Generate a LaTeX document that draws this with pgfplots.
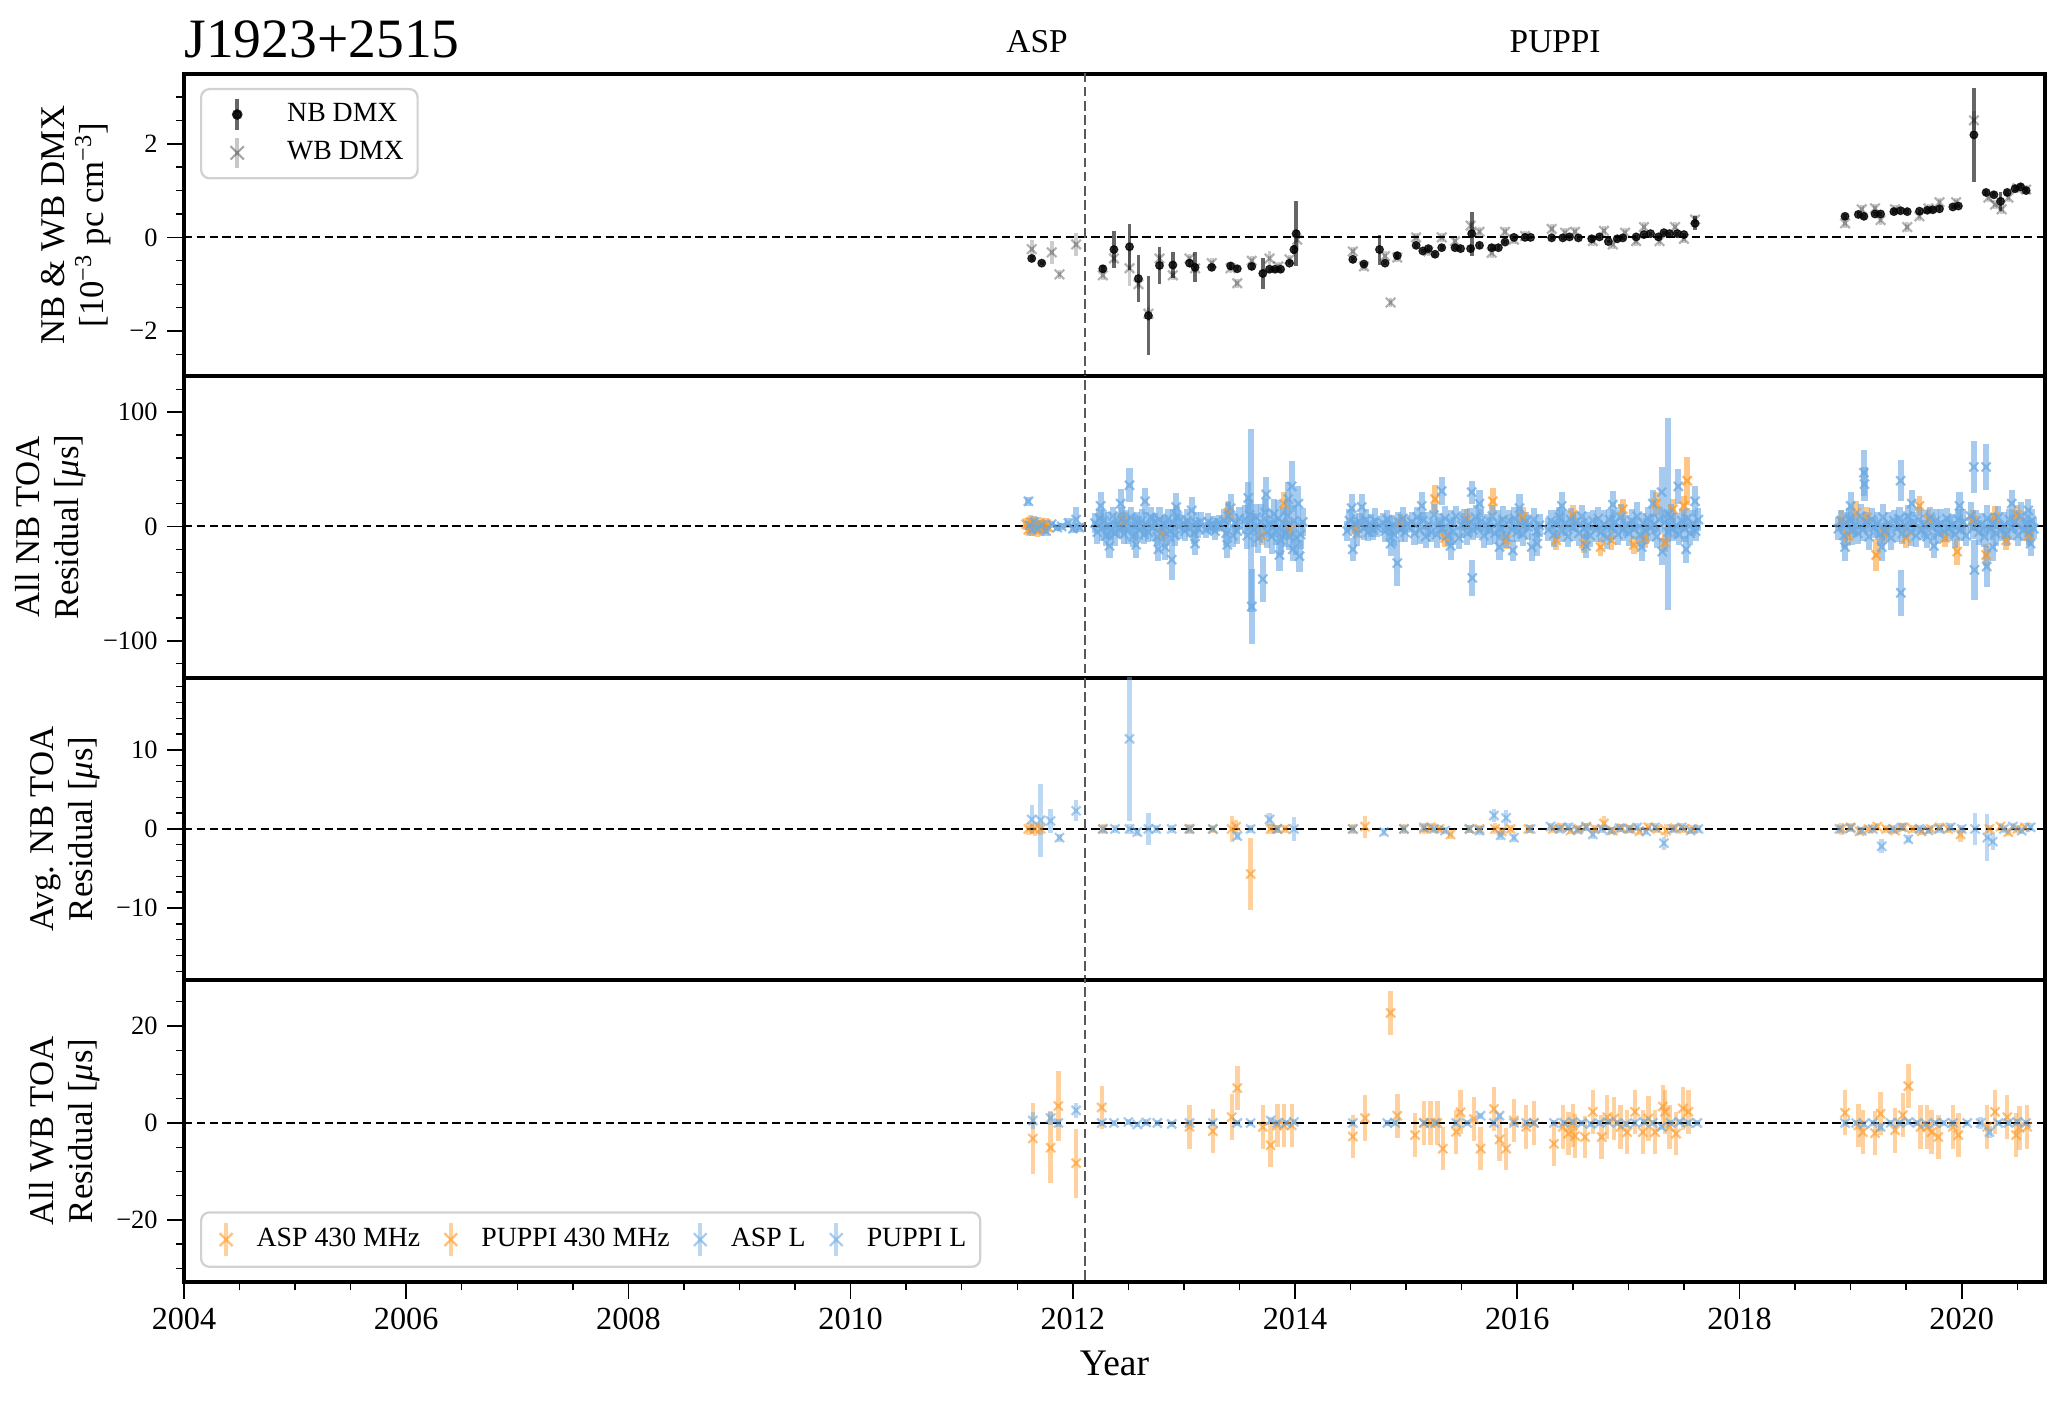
\documentclass[border=0pt]{standalone}
\usepackage{fontspec}
\setmainfont{Liberation Serif}
\usepackage{pgfplots}
\usepackage{pgfplotstable}
\pgfplotsset{compat=1.18}
\definecolor{cor}{HTML}{FD9927}
\definecolor{cbl}{HTML}{6BA9E2}

% ---------------- Panel 1: DMX ----------------
\pgfplotstableread[row sep=\\]{x y e\\
2011.63 -0.45 0.05\\ 2011.72 -0.55 0.05\\ 2012.27 -0.67 0.08\\ 2012.37 -0.26 0.39\\ 2012.51 -0.20 0.49\\
2012.59 -0.88 0.50\\ 2012.68 -1.67 0.85\\ 2012.78 -0.60 0.39\\ 2012.90 -0.59 0.27\\ 2013.05 -0.55 0.08\\
2013.10 -0.64 0.32\\ 2013.25 -0.64 0.06\\ 2013.42 -0.61 0.06\\ 2013.48 -0.67 0.05\\ 2013.61 -0.62 0.08\\
2013.71 -0.77 0.34\\ 2013.77 -0.68 0.05\\ 2013.82 -0.68 0.05\\ 2013.87 -0.68 0.05\\ 2013.95 -0.55 0.05\\
2013.99 -0.26 0.10\\ 2014.01 0.08 0.70\\
2014.52 -0.47 0.05\\ 2014.62 -0.57 0.05\\ 2014.76 -0.26 0.32\\ 2014.81 -0.55 0.05\\ 2014.92 -0.39 0.08\\
2015.09 -0.17 0.05\\ 2015.15 -0.29 0.05\\ 2015.20 -0.24 0.05\\ 2015.26 -0.36 0.05\\ 2015.32 -0.22 0.05\\
2015.44 -0.22 0.05\\ 2015.49 -0.24 0.05\\ 2015.58 -0.24 0.05\\ 2015.59 0.08 0.47\\ 2015.66 -0.17 0.05\\
2015.77 -0.22 0.05\\ 2015.83 -0.22 0.05\\ 2015.89 -0.10 0.05\\ 2015.97 0.00 0.04\\ 2016.07 0.00 0.04\\
2016.12 0.00 0.04\\ 2016.31 -0.01 0.04\\ 2016.41 -0.01 0.04\\ 2016.47 0.01 0.04\\ 2016.55 -0.01 0.04\\
2016.67 -0.03 0.04\\ 2016.74 0.01 0.04\\ 2016.82 -0.09 0.04\\ 2016.90 -0.03 0.04\\ 2016.95 -0.01 0.04\\
2017.07 0.01 0.04\\ 2017.14 0.06 0.04\\ 2017.20 0.08 0.04\\ 2017.27 0.01 0.04\\ 2017.32 0.10 0.04\\
2017.37 0.08 0.04\\ 2017.44 0.08 0.04\\ 2017.50 0.06 0.04\\ 2017.60 0.30 0.15\\
2018.95 0.45 0.05\\ 2019.07 0.49 0.05\\ 2019.12 0.45 0.05\\ 2019.22 0.50 0.05\\ 2019.27 0.50 0.05\\
2019.39 0.55 0.05\\ 2019.45 0.57 0.05\\ 2019.51 0.55 0.05\\ 2019.62 0.56 0.05\\ 2019.69 0.58 0.05\\
2019.74 0.59 0.05\\ 2019.80 0.61 0.05\\ 2019.92 0.65 0.05\\ 2019.97 0.67 0.05\\ 2020.11 2.19 1.00\\
2020.22 0.96 0.05\\ 2020.29 0.91 0.05\\ 2020.35 0.77 0.20\\ 2020.41 0.96 0.05\\ 2020.48 1.04 0.05\\
2020.53 1.08 0.05\\ 2020.58 1.00 0.05\\
}\nbdmx

\pgfplotstableread[row sep=\\]{x y e\\
2011.63 -0.25 0.20\\ 2011.81 -0.32 0.25\\ 2011.88 -0.79 0.10\\ 2012.03 -0.15 0.25\\ 2012.27 -0.81 0.10\\
2012.37 -0.45 0.10\\ 2012.51 -0.66 0.37\\ 2012.59 -1.00 0.10\\ 2012.68 -1.63 0.15\\ 2012.78 -0.45 0.10\\
2012.90 -0.81 0.10\\ 2013.05 -0.45 0.10\\ 2013.10 -0.66 0.10\\ 2013.25 -0.55 0.10\\ 2013.42 -0.66 0.10\\
2013.48 -0.98 0.10\\ 2013.61 -0.50 0.10\\ 2013.77 -0.45 0.15\\ 2013.85 -0.62 0.10\\ 2013.95 -0.47 0.10\\
2014.02 -0.05 0.20\\ 2014.52 -0.30 0.10\\ 2014.62 -0.62 0.10\\ 2014.81 -0.40 0.10\\ 2014.86 -1.39 0.10\\
2014.92 -0.43 0.10\\ 2015.09 0.00 0.10\\ 2015.20 -0.30 0.10\\ 2015.32 0.00 0.10\\ 2015.44 -0.08 0.10\\
2015.58 0.25 0.10\\ 2015.66 0.12 0.10\\ 2015.77 -0.33 0.10\\ 2015.89 0.12 0.10\\ 2015.97 -0.05 0.10\\
2016.07 0.03 0.10\\ 2016.31 0.18 0.10\\ 2016.43 0.10 0.10\\ 2016.52 0.12 0.10\\ 2016.68 -0.08 0.10\\
2016.78 0.14 0.10\\ 2016.86 -0.15 0.10\\ 2016.97 0.10 0.10\\ 2017.07 -0.08 0.10\\ 2017.14 0.22 0.10\\
2017.28 -0.08 0.10\\ 2017.42 0.22 0.10\\ 2017.50 -0.03 0.10\\ 2017.60 0.38 0.10\\
2018.95 0.30 0.10\\ 2019.10 0.60 0.10\\ 2019.22 0.62 0.10\\ 2019.27 0.37 0.10\\ 2019.40 0.60 0.10\\
2019.51 0.22 0.10\\ 2019.62 0.45 0.10\\ 2019.70 0.62 0.10\\ 2019.80 0.75 0.10\\ 2019.95 0.75 0.10\\
2020.11 2.50 0.20\\ 2020.24 0.85 0.10\\ 2020.30 0.70 0.10\\ 2020.36 0.60 0.10\\ 2020.42 0.85 0.10\\
2020.50 1.05 0.10\\ 2020.58 1.02 0.10\\
}\wbdmx

% ---------------- Panel 2: all NB TOA ----------------
\pgfplotstableread[row sep=\\]{x y e\\
2011.58 2 5\\ 2011.60 -3 5\\ 2011.62 4 6\\ 2011.64 -1 5\\ 2011.66 1 6\\ 2011.68 -4 5\\ 2011.70 3 5\\
2011.72 0 6\\ 2011.74 -2 5\\ 2011.76 2 5\\ 2011.78 -1 4\\
2012.45 5 8\\ 2012.80 -6 8\\ 2013.40 12 10\\ 2013.70 -8 8\\ 2013.90 20 10\\ 2013.95 -3 9\\
2014.55 -2 8\\ 2014.95 3 8\\ 2015.26 24 12\\ 2015.35 -10 8\\ 2015.55 6 9\\ 2015.78 22 12\\
2015.90 -12 8\\ 2016.05 8 9\\ 2016.35 -12 9\\ 2016.50 10 9\\ 2016.60 -15 8\\ 2016.75 -18 8\\
2016.85 -12 9\\ 2016.95 15 9\\ 2017.05 -16 8\\ 2017.15 -10 9\\ 2017.25 20 10\\ 2017.33 -14 8\\
2017.40 15 9\\ 2017.53 40 21\\ 2017.50 18 9\\
2018.92 5 9\\ 2018.98 -8 9\\ 2019.05 12 10\\ 2019.23 -25 14\\ 2019.15 8 9\\ 2019.30 -6 9\\
2019.62 18 9\\ 2019.50 -10 9\\ 2019.70 6 9\\ 2019.85 -10 8\\ 2019.96 -22 12\\ 2020.10 5 9\\
2020.22 -25 10\\ 2020.30 8 10\\ 2020.40 -12 9\\ 2020.50 10 9\\ 2020.60 -8 9\\
}\nbor

\pgfplotstableread[row sep=\\]{x y e\\
2011.60 22 4\\ 2011.61 1 4\\ 2011.63 -3 5\\ 2011.65 4 5\\ 2011.68 -2 4\\ 2011.72 1 5\\ 2011.76 -4 4\\
2011.81 2 3\\ 2011.86 -1 3\\ 2011.90 0 3\\ 2011.96 3 4\\ 2012.00 -2 4\\ 2012.03 6 11\\ 2012.06 -1 4\\
2012.20 3 9\\ 2012.22 -5 10\\ 2012.24 7 8\\ 2012.26 -2 11\\ 2012.28 5 9\\ 2012.30 -8 9\\ 2012.32 1 12\\
2012.34 -4 8\\ 2012.36 9 8\\ 2012.38 -6 11\\ 2012.40 2 10\\ 2012.42 -1 9\\ 2012.44 6 11\\ 2012.46 -7 8\\
2012.48 4 10\\ 2012.50 -3 12\\ 2012.51 36 15\\ 2012.52 8 9\\ 2012.54 -9 9\\ 2012.56 0 11\\ 2012.58 5 8\\
2012.60 -3 9\\ 2012.62 5 10\\ 2012.64 -7 8\\ 2012.66 2 11\\ 2012.68 -5 9\\ 2012.70 8 9\\ 2012.72 -1 12\\
2012.74 4 8\\ 2012.76 -9 8\\ 2012.77 -20 10\\ 2012.78 6 11\\ 2012.80 -2 10\\ 2012.82 1 9\\ 2012.84 -6 11\\
2012.86 7 8\\ 2012.88 -4 10\\ 2012.89 -29 18\\ 2012.90 3 12\\ 2012.92 -8 9\\ 2012.94 9 9\\ 2012.96 0 11\\
2012.99 2 8\\ 2013.01 -4 9\\ 2013.03 5 10\\ 2013.05 -1 8\\ 2013.07 14 12\\ 2013.09 -6 9\\ 2013.11 3 10\\
2013.13 -2 8\\ 2013.15 4 9\\
2013.20 -3 7\\ 2013.22 4 8\\ 2013.24 -1 6\\ 2013.26 2 7\\ 2013.28 -4 8\\ 2013.30 1 6\\ 2013.32 3 7\\
2013.36 5 10\\ 2013.38 -6 11\\ 2013.40 9 12\\ 2013.42 16 12\\ 2013.44 -8 10\\ 2013.46 3 9\\ 2013.48 -4 11\\
2013.50 7 10\\
2013.55 6 13\\ 2013.57 -8 12\\ 2013.59 10 14\\ 2013.60 5 80\\ 2013.61 -70 33\\ 2013.63 -3 15\\
2013.65 8 12\\ 2013.67 -10 13\\ 2013.69 4 16\\ 2013.71 -46 20\\ 2013.73 12 13\\ 2013.75 -5 14\\
2013.77 2 12\\ 2013.79 -9 15\\ 2013.81 11 13\\ 2013.83 -4 12\\ 2013.85 7 16\\ 2013.87 -12 13\\
2013.89 3 14\\ 2013.91 -6 12\\ 2013.93 9 15\\ 2013.95 -8 13\\ 2013.97 35 22\\ 2013.98 -20 10\\
2013.99 5 14\\ 2014.01 -10 15\\ 2014.03 20 15\\ 2014.05 -7 13\\ 2014.07 4 12\\
2014.47 -4 9\\ 2014.49 5 10\\ 2014.51 16 12\\ 2014.52 -20 10\\ 2014.54 2 9\\ 2014.56 -6 11\\
2014.58 4 8\\ 2014.62 -2 10\\ 2014.64 6 9\\ 2014.66 -5 8\\ 2014.68 1 10\\ 2014.70 -3 9\\
2014.72 5 11\\ 2014.74 -1 8\\
2014.79 3 9\\ 2014.81 -4 10\\ 2014.83 6 8\\ 2014.85 -2 11\\ 2014.87 1 9\\ 2014.89 -7 10\\
2014.92 -32 20\\ 2014.93 4 9\\ 2014.95 -3 11\\ 2014.97 7 10\\ 2014.99 -5 9\\ 2015.01 2 8\\
2015.050 4 9\\ 2015.075 -6 10\\ 2015.100 8 9\\ 2015.125 -3 12\\ 2015.150 5 8\\ 2015.175 -9 10\\
2015.200 2 11\\ 2015.225 -5 9\\ 2015.250 10 10\\ 2015.275 -7 12\\ 2015.300 3 9\\ 2015.320 31 12\\
2015.325 -2 10\\ 2015.350 7 11\\ 2015.375 -8 9\\ 2015.400 4 10\\ 2015.425 -4 12\\ 2015.450 9 9\\
2015.475 -10 10\\ 2015.500 1 11\\ 2015.525 6 9\\ 2015.550 -6 10\\ 2015.575 4 12\\ 2015.590 30 10\\
2015.595 -45 16\\ 2015.600 -3 9\\ 2015.625 8 11\\ 2015.650 -1 9\\ 2015.675 5 10\\ 2015.700 -8 11\\
2015.725 2 9\\ 2015.750 -4 12\\ 2015.775 9 10\\ 2015.800 -6 9\\ 2015.825 3 11\\ 2015.850 -2 10\\
2015.875 6 12\\ 2015.900 -9 10\\ 2015.925 5 9\\ 2015.950 -3 11\\ 2015.960 -21 9\\ 2015.975 7 10\\
2016.000 -5 9\\ 2016.025 2 12\\ 2016.050 -7 10\\ 2016.075 4 9\\ 2016.100 -1 11\\ 2016.130 -18 12\\
2016.150 6 10\\ 2016.175 -4 9\\ 2016.200 1 10\\
2016.280 -3 10\\ 2016.305 5 9\\ 2016.330 -7 11\\ 2016.355 2 12\\ 2016.380 8 9\\ 2016.405 -4 10\\
2016.430 3 11\\ 2016.455 -9 9\\ 2016.480 6 10\\ 2016.505 -1 12\\ 2016.530 4 9\\ 2016.555 -6 11\\
2016.580 9 10\\ 2016.605 -2 9\\ 2016.630 1 12\\ 2016.655 -8 10\\ 2016.680 5 9\\ 2016.705 -3 11\\
2016.730 7 10\\ 2016.755 -5 9\\ 2016.780 2 12\\ 2016.805 -10 10\\ 2016.830 6 9\\ 2016.855 -1 11\\
2016.880 4 10\\ 2016.905 -7 9\\ 2016.930 8 12\\ 2016.955 -3 10\\ 2016.980 1 9\\ 2017.005 -6 11\\
2017.030 5 10\\ 2017.055 -2 9\\ 2017.080 9 12\\ 2017.105 -8 10\\ 2017.130 3 9\\ 2017.155 -4 11\\
2017.180 7 10\\ 2017.205 -1 12\\ 2017.230 2 9\\ 2017.255 -9 10\\ 2017.280 6 11\\ 2017.300 30 22\\
2017.305 -22 12\\ 2017.330 4 10\\ 2017.355 -5 9\\ 2017.360 11 84\\ 2017.380 8 12\\ 2017.405 -3 10\\
2017.430 1 11\\ 2017.450 35 15\\ 2017.455 -7 9\\ 2017.480 5 10\\ 2017.505 -2 12\\ 2017.530 7 9\\
2017.555 -6 10\\ 2017.580 3 11\\ 2017.605 -4 9\\ 2017.630 6 10\\
2018.890 -2 10\\ 2018.915 5 9\\ 2018.940 -8 11\\ 2018.950 -18 12\\ 2018.965 3 10\\ 2018.990 7 9\\
2019.015 -4 12\\ 2019.040 1 10\\ 2019.065 -6 9\\ 2019.090 9 11\\ 2019.115 -3 10\\ 2019.120 47 20\\
2019.125 37 15\\ 2019.140 4 9\\ 2019.165 -9 12\\ 2019.190 6 10\\ 2019.215 -1 9\\ 2019.240 2 11\\
2019.265 -7 10\\ 2019.290 8 12\\ 2019.315 -4 9\\ 2019.340 3 10\\ 2019.365 -10 11\\ 2019.390 5 9\\
2019.415 -2 12\\ 2019.440 7 10\\ 2019.450 40 18\\ 2019.452 -58 20\\ 2019.465 -6 9\\ 2019.490 1 11\\
2019.515 9 10\\ 2019.540 -5 12\\ 2019.565 4 9\\ 2019.590 -8 10\\ 2019.615 6 11\\ 2019.640 -3 9\\
2019.665 2 12\\ 2019.690 -9 10\\ 2019.715 8 9\\ 2019.740 -1 11\\ 2019.765 5 10\\ 2019.790 -6 9\\
2019.815 3 12\\ 2019.840 -4 10\\ 2019.865 7 9\\ 2019.890 -2 11\\ 2019.915 1 10\\ 2019.940 -7 12\\
2019.965 6 9\\ 2019.990 -3 10\\ 2020.015 4 11\\ 2020.040 -8 9\\ 2020.080 9 12\\ 2020.105 -1 10\\
2020.110 52 23\\ 2020.115 -38 26\\ 2020.130 5 9\\ 2020.155 -5 11\\ 2020.180 2 10\\ 2020.205 -9 9\\
2020.220 52 20\\ 2020.225 -35 18\\ 2020.230 7 12\\ 2020.255 -2 10\\ 2020.280 3 9\\ 2020.305 -6 11\\
2020.330 8 10\\ 2020.355 -4 9\\ 2020.380 1 12\\ 2020.405 -7 10\\ 2020.430 6 9\\ 2020.455 -1 11\\
2020.480 4 10\\ 2020.505 -8 9\\ 2020.530 9 12\\ 2020.555 -3 10\\ 2020.580 2 9\\ 2020.600 14 10\\
2020.605 -5 11\\ 2020.630 5 10\\ 2020.650 -2 9\\
2012.25 18 12\\ 2012.33 -17 11\\ 2012.43 20 13\\ 2012.57 -16 12\\ 2012.65 22 12\\ 2012.83 -18 11\\
2012.93 17 12\\ 2013.10 -15 10\\ 2013.39 -16 12\\ 2013.58 25 14\\ 2013.74 28 15\\ 2013.86 -25 14\\
2013.94 24 15\\ 2014.04 -26 14\\ 2014.60 17 11\\ 2014.86 -15 11\\ 2015.14 18 12\\ 2015.40 -17 12\\
2015.66 20 12\\ 2015.84 -18 11\\ 2016.02 16 12\\ 2016.18 -15 11\\ 2016.40 18 12\\ 2016.62 -17 11\\
2016.86 19 12\\ 2017.12 -18 12\\ 2017.22 20 12\\ 2017.52 -20 12\\ 2017.60 22 13\\ 2019.00 18 12\\
2019.28 -18 12\\ 2019.55 20 12\\ 2019.75 -17 11\\ 2019.98 18 12\\ 2020.28 -18 12\\ 2020.45 20 12\\
2020.62 -15 11\\
}\nbbl

% ---------------- Panel 3: averaged NB TOA ----------------
\pgfplotstableread[row sep=\\]{x y e\\
2011.60 0 0.8\\ 2011.66 0 0.9\\ 2011.71 0 0.8\\ 2012.27 0 0.6\\ 2013.05 0 0.6\\ 2013.26 0 0.5\\
2013.43 0 1.6\\ 2013.47 0.3 0.8\\ 2013.60 -5.7 4.6\\ 2013.78 0 0.6\\ 2013.84 0 0.5\\ 2013.91 0 0.5\\
2014.52 0 0.6\\ 2014.63 0.3 1.4\\ 2014.98 0 0.6\\ 2015.16 0 0.6\\ 2015.22 0.2 0.6\\ 2015.30 0 0.5\\
2015.40 -0.7 0.6\\ 2015.57 0 0.5\\ 2015.66 0 0.5\\ 2015.80 0 0.7\\ 2015.86 -0.3 0.6\\ 2015.94 0 0.5\\
2016.10 0 0.5\\ 2016.32 0 0.5\\ 2016.40 0.2 0.5\\ 2016.48 -0.2 0.5\\ 2016.55 0 0.5\\ 2016.62 0.3 0.5\\
2016.70 0 0.5\\ 2016.78 0.7 1.0\\ 2016.86 -0.2 0.5\\ 2016.94 0.1 0.5\\ 2017.02 0 0.5\\ 2017.10 -0.3 0.5\\
2017.18 0.2 0.5\\ 2017.26 0 0.5\\ 2017.34 -0.2 0.8\\ 2017.42 0.1 0.5\\ 2017.50 0 0.5\\ 2017.58 0 0.5\\
2018.92 0 0.8\\ 2019.00 0.2 0.5\\ 2019.08 -0.3 0.5\\ 2019.16 0 0.5\\ 2019.24 0.3 0.5\\ 2019.32 0 0.5\\
2019.40 -0.2 0.5\\ 2019.48 0.2 0.5\\ 2019.56 0 0.5\\ 2019.64 -0.3 0.5\\ 2019.72 0 0.5\\ 2019.80 0.2 0.5\\
2019.88 0 0.5\\ 2019.99 -0.7 0.9\\ 2020.25 0 0.5\\ 2020.35 0.3 0.5\\ 2020.42 -0.4 0.5\\ 2020.50 0 0.5\\
2020.57 0.2 0.5\\
}\avor

\pgfplotstableread[row sep=\\]{x y e\\
2011.63 1.2 1.8\\ 2011.71 1.1 4.6\\ 2011.80 1.0 1.5\\ 2011.88 -1.1 0.5\\ 2012.03 2.3 1.3\\
2012.27 0 0.5\\ 2012.38 0 0.5\\ 2012.51 11.4 10.4\\ 2012.51 0 0.6\\ 2012.58 -0.4 0.5\\ 2012.68 0 2.0\\
2012.75 0 0.5\\ 2012.89 0 0.5\\ 2013.05 0 0.5\\ 2013.26 0 0.4\\ 2013.48 -0.9 0.5\\ 2013.60 0 0.5\\
2013.77 1.2 0.8\\ 2013.84 0 0.5\\ 2013.99 0 1.5\\ 2014.52 0 0.5\\ 2014.80 -0.4 0.5\\ 2014.98 0 0.5\\
2015.16 0.2 0.6\\ 2015.25 0 0.5\\ 2015.35 -0.2 0.5\\ 2015.57 0 0.5\\ 2015.66 -0.2 0.6\\ 2015.79 1.7 0.8\\
2015.85 -0.8 0.6\\ 2015.90 1.4 1.0\\ 2015.97 -1.1 0.5\\ 2016.12 0 0.5\\
2016.30 0.3 0.5\\ 2016.38 0 0.5\\ 2016.46 0.2 0.5\\ 2016.54 -0.1 0.5\\ 2016.62 0.2 0.5\\ 2016.68 -0.7 0.6\\
2016.76 0 0.5\\ 2016.84 -0.2 0.5\\ 2016.92 0.1 0.5\\ 2017.00 0 0.5\\ 2017.08 0.2 0.5\\ 2017.16 -0.3 0.5\\
2017.24 0.2 0.5\\ 2017.32 -1.8 0.8\\ 2017.40 0 0.5\\ 2017.48 0.2 0.5\\ 2017.56 -0.2 0.5\\ 2017.63 0 0.5\\
2018.90 0 0.5\\ 2019.00 0.1 0.5\\ 2019.10 -0.2 0.5\\ 2019.20 0 0.5\\ 2019.28 -2.2 0.9\\ 2019.38 0 0.5\\
2019.46 0.2 0.5\\ 2019.52 -1.3 0.5\\ 2019.62 0 0.5\\ 2019.70 -0.2 0.5\\ 2019.80 0 0.5\\ 2019.90 0.2 0.5\\
2020.00 0 0.5\\ 2020.12 0 2.0\\ 2020.23 -1.1 3.0\\ 2020.28 -1.6 1.1\\ 2020.38 0 0.5\\ 2020.46 0.3 0.5\\
2020.54 -0.2 0.5\\ 2020.62 0.2 0.5\\
}\avbl

% ---------------- Panel 4: all WB TOA ----------------
\pgfplotstableread[row sep=\\]{x y e\\
2011.64 -3.2 7.3\\ 2011.80 -5.1 7.3\\ 2011.87 3.5 7.3\\ 2012.03 -8.3 7.1\\ 2012.26 3.2 4.5\\
2013.05 -0.8 4.5\\ 2013.26 -1.7 4.5\\ 2013.43 1.2 4.7\\ 2013.48 7.2 4.6\\ 2013.71 -0.8 4.5\\
2013.78 -4.6 4.4\\ 2013.84 -0.5 4.5\\ 2013.90 -0.5 4.5\\ 2013.97 -0.5 4.5\\ 2014.52 -2.8 4.5\\
2014.63 1.0 4.7\\ 2014.86 22.7 4.5\\ 2014.92 1.5 4.5\\ 2015.08 -2.5 4.5\\ 2015.16 0 4.5\\
2015.22 0 4.5\\ 2015.28 0 4.5\\ 2015.33 -5.3 4.4\\ 2015.45 -1.8 4.5\\ 2015.49 2.2 4.5\\
2015.61 0.8 4.5\\ 2015.67 -5.3 4.4\\ 2015.79 2.9 4.5\\ 2015.84 -3.4 4.5\\ 2015.90 -5.3 4.3\\
2015.97 0.5 4.5\\ 2016.08 -0.8 4.5\\ 2016.15 0 4.5\\ 2016.33 -4.3 4.6\\ 2016.41 -0.8 4.5\\
2016.46 -2.2 4.5\\ 2016.50 -0.5 4.5\\ 2016.52 -2.7 4.5\\ 2016.61 -2.9 4.4\\ 2016.68 2.3 4.5\\
2016.76 -2.9 4.5\\ 2016.81 1.2 4.5\\ 2016.87 0.9 4.5\\ 2016.93 -0.8 4.6\\ 2016.99 -1.9 4.6\\
2017.06 2.3 4.5\\ 2017.13 -1.9 4.6\\ 2017.18 0.9 4.6\\ 2017.24 -1.9 4.5\\ 2017.31 3.4 4.4\\
2017.33 2.3 4.5\\ 2017.37 -0.8 4.5\\ 2017.43 -2.2 4.5\\ 2017.49 3.0 4.4\\ 2017.54 2.3 4.5\\
2018.95 2.1 4.6\\ 2019.07 -0.5 4.5\\ 2019.11 -1.9 4.5\\ 2019.22 -2.1 4.5\\ 2019.27 1.9 4.4\\
2019.40 -1.5 4.6\\ 2019.47 1.6 4.5\\ 2019.52 7.6 4.6\\ 2019.63 -0.8 4.5\\ 2019.69 -0.8 4.5\\
2019.73 -1.9 4.5\\ 2019.79 -2.9 4.5\\ 2019.92 -0.8 4.6\\ 2019.97 -2.5 4.5\\ 2020.23 -0.8 4.6\\
2020.30 2.3 4.5\\ 2020.41 1.2 4.5\\ 2020.49 -2.5 4.5\\ 2020.52 -1.0 4.5\\ 2020.59 -0.8 4.5\\
}\wbor

\pgfplotstableread[row sep=\\]{x y e\\
2011.64 0.5 1.7\\ 2011.80 1.0 1.5\\ 2011.87 0 0.8\\ 2012.03 2.6 1.5\\ 2012.26 0 0.6\\ 2012.37 0 0.6\\
2012.50 0.2 0.6\\ 2012.58 -0.3 0.6\\ 2012.66 0.1 0.8\\ 2012.76 0 0.6\\ 2012.89 -0.2 0.6\\ 2013.05 0 0.6\\
2013.26 0 0.6\\ 2013.48 0 0.6\\ 2013.60 0 0.6\\ 2013.78 0.5 0.8\\ 2013.84 0 0.6\\ 2013.92 0 0.6\\
2013.99 0.2 0.6\\ 2014.52 0 0.6\\ 2014.83 0 0.6\\ 2014.90 0 0.6\\ 2015.16 0 0.6\\ 2015.26 0 0.6\\
2015.45 0 0.6\\ 2015.55 0 0.6\\ 2015.67 1.5 0.6\\ 2015.79 0 0.6\\ 2015.84 1.5 0.6\\ 2015.97 0 0.6\\
2016.08 0 0.6\\ 2016.15 0 0.6\\ 2016.33 0 0.6\\ 2016.42 0 0.6\\ 2016.50 0.2 0.6\\ 2016.58 0 0.6\\
2016.66 -0.2 0.6\\ 2016.74 0 0.6\\ 2016.82 0.2 0.6\\ 2016.90 0 0.6\\ 2016.98 -0.2 0.6\\ 2017.06 0 0.6\\
2017.14 0.2 0.6\\ 2017.22 0 0.6\\ 2017.30 -0.8 0.6\\ 2017.38 0 0.6\\ 2017.46 0.2 0.6\\ 2017.54 0 0.6\\
2017.62 0 0.6\\ 2018.95 0 0.6\\ 2019.05 0 0.6\\ 2019.12 -0.2 0.6\\ 2019.20 0 0.6\\ 2019.27 -0.8 0.8\\
2019.36 0 0.6\\ 2019.44 0 0.6\\ 2019.52 0.2 0.6\\ 2019.60 0 0.6\\ 2019.68 -0.2 0.6\\ 2019.76 0 0.6\\
2019.84 0 0.6\\ 2019.92 0 0.6\\ 2020.05 0 0.6\\ 2020.17 0 1.2\\ 2020.25 -1.9 1.2\\ 2020.33 0 0.6\\
2020.42 0 0.6\\ 2020.50 0.2 0.6\\ 2020.58 0 0.6\\
}\wbbl

\pgfplotsset{
  panel/.style={
    scale only axis, width=669.96pt, height=108.72pt,
    xmin=2004, xmax=2020.75,
    axis line style={line width=1.25pt},
    tick align=outside, tick pos=left,
    major tick length=6pt, minor tick length=3pt,
    major tick style={black, line width=0.6pt},
    minor tick style={black, line width=0.5pt},
    yticklabel style={font=\fontsize{9.5}{11}\selectfont},
    ylabel style={font=\fontsize{12.5}{14}\selectfont, align=center, anchor=center},
    xtick=\empty,
    legend cell align=left,
  },
  orng/.style={only marks, mark=x, color=cor, mark size=2.3pt,
    mark options={opacity=0.6, line width=0.8pt},
    error bars/.cd, y dir=both, y explicit, error mark=none,
    error bar style={line width=1.6pt, opacity=0.45, draw=cor}},
  blu/.style={only marks, mark=x, color=cbl, mark size=2.3pt,
    mark options={opacity=0.6, line width=0.8pt},
    error bars/.cd, y dir=both, y explicit, error mark=none,
    error bar style={line width=1.6pt, opacity=0.45, draw=cbl}},
  orngd/.style={only marks, mark=x, color=cor, mark size=2.3pt,
    mark options={opacity=0.7, line width=0.8pt},
    error bars/.cd, y dir=both, y explicit, error mark=none,
    error bar style={line width=2.0pt, opacity=0.55, draw=cor}},
  blud/.style={only marks, mark=x, color=cbl, mark size=2.3pt,
    mark options={opacity=0.75, line width=0.8pt},
    error bars/.cd, y dir=both, y explicit, error mark=none,
    error bar style={line width=2.2pt, opacity=0.6, draw=cbl}},
  zeroline/.style={black, line width=0.7pt, dash pattern=on 3pt off 1.6pt},
  vline/.style={black!65, line width=0.6pt, dash pattern=on 3.5pt off 1.6pt},
}

\begin{document}
\begin{tikzpicture}

% ===== Panel 1 =====
\begin{axis}[panel, at={(0pt,326.16pt)},
  ymin=-2.96, ymax=3.49, ytick={-2,0,2}, yticklabels={−2,0,2},
  minor ytick={-2.5,-2,...,3},
  ylabel={NB \& WB DMX\\{}[10\textsuperscript{−3} pc cm\textsuperscript{−3}]},
  ylabel style={at={(axis description cs:-0.0581,0.5)}},
  legend style={at={(axis description cs:0.0086,0.9536)}, anchor=north west,
    draw=black!18, line width=0.8pt, rounded corners=3pt,
    font=\fontsize{10}{12}\selectfont, inner xsep=3pt, inner ysep=3pt, row sep=1.5pt},
]
\addlegendimage{legend image code/.code={
  \path[draw=none, fill=none] (0pt,-6pt) rectangle (26pt,6pt);
  \draw[black, opacity=0.6, line width=1.3pt] (10pt,-5.5pt) -- (10pt,5.5pt);
  \fill[black, opacity=0.85] (10pt,0pt) circle (1.5pt);}}
\addlegendentry{NB DMX}
\addlegendimage{legend image code/.code={
  \path[draw=none, fill=none] (0pt,-6pt) rectangle (26pt,6pt);
  \draw[black, opacity=0.22, line width=1.3pt] (10pt,-5.5pt) -- (10pt,5.5pt);
  \draw[black, opacity=0.35, line width=0.8pt] (7.6pt,-2.4pt) -- (12.4pt,2.4pt) (7.6pt,2.4pt) -- (12.4pt,-2.4pt);}}
\addlegendentry{WB DMX}
\addplot[forget plot, only marks, mark=*, color=black, mark size=1.4pt,
  mark options={opacity=0.8},
  error bars/.cd, y dir=both, y explicit, error mark=none,
  error bar style={line width=1.3pt, opacity=0.6, draw=black}]
  table[x=x, y=y, y error=e] {\nbdmx};
\addplot[forget plot, only marks, mark=x, color=black, mark size=2.4pt,
  mark options={opacity=0.3, line width=0.8pt},
  error bars/.cd, y dir=both, y explicit, error mark=none,
  error bar style={line width=1.3pt, opacity=0.2, draw=black}]
  table[x=x, y=y, y error=e] {\wbdmx};
\addplot[forget plot, zeroline] coordinates {(2004,0) (2020.75,0)};
\addplot[forget plot, vline] coordinates {(2012.11,-10) (2012.11,10)};
\end{axis}

% ===== Panel 2 =====
\begin{axis}[panel, at={(0pt,217.44pt)},
  ymin=-132.5, ymax=131.6, ytick={-100,0,100}, yticklabels={−100,0,100},
  minor ytick={-120,-100,...,120},
  ylabel={All NB TOA\\Residual [\textit{μ}s]},
  ylabel style={at={(axis description cs:-0.0715,0.5)}},
]
\addplot[forget plot, orngd] table[x=x, y=y, y error=e] {\nbor};
\addplot[forget plot, blud] table[x=x, y=y, y error=e] {\nbbl};
\addplot[forget plot, zeroline] coordinates {(2004,0) (2020.75,0)};
\addplot[forget plot, vline] coordinates {(2012.11,-500) (2012.11,500)};
\end{axis}

% ===== Panel 3 =====
\begin{axis}[panel, at={(0pt,108.72pt)},
  ymin=-19.1, ymax=19.1, ytick={-10,0,10}, yticklabels={−10,0,10},
  minor ytick={-18,-16,...,18},
  ylabel={Avg. NB TOA\\Residual [\textit{μ}s]},
  ylabel style={at={(axis description cs:-0.0639,0.5)}},
]
\addplot[forget plot, orng] table[x=x, y=y, y error=e] {\avor};
\addplot[forget plot, blu] table[x=x, y=y, y error=e] {\avbl};
\addplot[forget plot, zeroline] coordinates {(2004,0) (2020.75,0)};
\addplot[forget plot, vline] coordinates {(2012.11,-500) (2012.11,500)};
\end{axis}

% ===== Panel 4 =====
\begin{axis}[panel, at={(0pt,0pt)},
  ymin=-32.8, ymax=29.5, ytick={-20,0,20}, yticklabels={−20,0,20},
  minor ytick={-30,-25,...,25},
  xtick={2004,2006,2008,2010,2012,2014,2016,2018,2020},
  xticklabels={2004,2006,2008,2010,2012,2014,2016,2018,2020},
  minor xtick={2004.5,2005,...,2020.5},
  xticklabel style={font=\fontsize{11.6}{13}\selectfont},
  xlabel={Year},
  xlabel style={at={(axis description cs:0.5,0)}, anchor=base, yshift=-33.8pt,
    font=\fontsize{13.5}{16}\selectfont},
  ylabel={All WB TOA\\Residual [\textit{μ}s]},
  ylabel style={at={(axis description cs:-0.0639,0.5)}},
  legend columns=4,
  legend style={at={(axis description cs:0.0086,0.0464)}, anchor=south west,
    draw=black!18, line width=0.8pt, rounded corners=3pt,
    font=\fontsize{10}{12}\selectfont, inner xsep=3pt, inner ysep=3pt,
    /tikz/every even column/.append style={column sep=3pt}},
]
\addlegendimage{legend image code/.code={
  \path[draw=none, fill=none] (0pt,-6pt) rectangle (15pt,6pt);
  \draw[cor, opacity=0.45, line width=1.6pt] (6pt,-6pt) -- (6pt,6pt);
  \draw[cor, opacity=0.6, line width=0.8pt] (3.7pt,-2.3pt) -- (8.3pt,2.3pt) (3.7pt,2.3pt) -- (8.3pt,-2.3pt);}}
\addlegendentry{ASP 430 MHz}
\addlegendimage{legend image code/.code={
  \path[draw=none, fill=none] (0pt,-6pt) rectangle (15pt,6pt);
  \draw[cor, opacity=0.45, line width=1.6pt] (6pt,-6pt) -- (6pt,6pt);
  \draw[cor, opacity=0.6, line width=0.8pt] (3.7pt,-2.3pt) -- (8.3pt,2.3pt) (3.7pt,2.3pt) -- (8.3pt,-2.3pt);}}
\addlegendentry{PUPPI 430 MHz}
\addlegendimage{legend image code/.code={
  \path[draw=none, fill=none] (0pt,-6pt) rectangle (15pt,6pt);
  \draw[cbl, opacity=0.45, line width=1.6pt] (6pt,-6pt) -- (6pt,6pt);
  \draw[cbl, opacity=0.6, line width=0.8pt] (3.7pt,-2.3pt) -- (8.3pt,2.3pt) (3.7pt,2.3pt) -- (8.3pt,-2.3pt);}}
\addlegendentry{ASP L}
\addlegendimage{legend image code/.code={
  \path[draw=none, fill=none] (0pt,-6pt) rectangle (15pt,6pt);
  \draw[cbl, opacity=0.45, line width=1.6pt] (6pt,-6pt) -- (6pt,6pt);
  \draw[cbl, opacity=0.6, line width=0.8pt] (3.7pt,-2.3pt) -- (8.3pt,2.3pt) (3.7pt,2.3pt) -- (8.3pt,-2.3pt);}}
\addlegendentry{PUPPI L}
\addplot[forget plot, orng] table[x=x, y=y, y error=e] {\wbor};
\addplot[forget plot, blu] table[x=x, y=y, y error=e] {\wbbl};
\addplot[forget plot, zeroline] coordinates {(2004,0) (2020.75,0)};
\addplot[forget plot, vline] coordinates {(2012.11,-500) (2012.11,500)};
\end{axis}

% titles above the top panel
\node[anchor=base west, font=\fontsize{20}{24}\selectfont, inner sep=0pt] at (0pt,440.64pt) {J1923+2515};
\node[anchor=base, font=\fontsize{12}{14}\selectfont, inner sep=0pt] at (307.1pt,442.5pt) {ASP};
\node[anchor=base, font=\fontsize{12}{14}\selectfont, inner sep=0pt] at (493.6pt,442.5pt) {PUPPI};

\pgfresetboundingbox
\useasboundingbox (-66.24pt,-43.92pt) rectangle (677.16pt,461.52pt);
\end{tikzpicture}
\end{document}
